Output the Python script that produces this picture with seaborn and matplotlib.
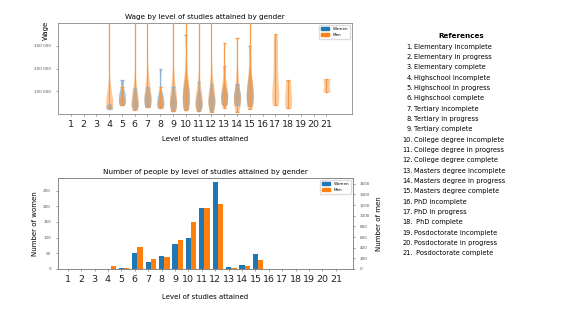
import numpy as np
import pandas as pd
import matplotlib
matplotlib.use('Agg')
import matplotlib.pyplot as plt
from matplotlib.patches import Patch
from matplotlib.ticker import FuncFormatter
import seaborn as sns

# level of studies 1..21
levels = list(range(1, 22))

# number of people per level (bottom chart)
women_count = [0, 0, 0, 1, 4, 51, 21, 42, 80, 99, 194, 277, 7, 12, 49, 0, 0, 0, 0, 0, 0]
men_count = [0, 0, 0, 56, 20, 413, 188, 231, 550, 875, 1144, 1219, 25, 56, 175, 0, 5, 5, 0, 0, 0]

# wages (thousands), per level
women_wage_4 = [22, 30, 42]
women_wage_5 = [40, 60, 80, 100, 148]
women_wage_6 = [20, 35, 45, 55, 70, 90, 115]
women_wage_7 = [30, 45, 60, 75, 90, 119]
women_wage_8 = [28, 40, 55, 70, 90, 197]
women_wage_9 = [15, 30, 45, 55, 70, 90, 120]
women_wage_10 = [18, 40, 60, 80, 100, 130, 346]
women_wage_11 = [15, 30, 40, 50, 60, 75, 95, 140]
women_wage_12 = [10, 30, 45, 55, 65, 80, 100, 130]
women_wage_13 = [38, 60, 80, 100, 211]
women_wage_14 = [38, 60, 80, 100, 134]
women_wage_15 = [34, 55, 75, 95, 120, 160, 300]

men_wage_4 = [28, 30, 32, 35, 38, 42, 48, 55, 65, 80, 100, 130, 480]
men_wage_5 = [38, 45, 50, 55, 60, 65, 75, 90, 105, 119]
men_wage_6 = [16, 25, 32, 38, 42, 48, 55, 62, 70, 80, 95, 115, 140, 500]
men_wage_7 = [29, 40, 50, 58, 65, 72, 80, 90, 105, 125, 150, 520]
men_wage_8 = [25, 30, 35, 40, 45, 52, 60, 70, 80, 95, 119]
men_wage_9 = [12, 25, 35, 45, 50, 55, 60, 68, 78, 90, 110, 140, 180, 550]
men_wage_10 = [16, 30, 45, 60, 70, 80, 90, 100, 115, 130, 160, 200, 600]
men_wage_11 = [13, 25, 35, 42, 48, 55, 62, 70, 85, 100, 130, 500]
men_wage_12 = [9, 25, 35, 45, 52, 60, 68, 78, 90, 105, 125, 160, 550]
men_wage_13 = [28, 45, 60, 75, 85, 95, 110, 125, 150, 200, 310]
men_wage_14 = [9, 30, 45, 55, 65, 75, 90, 110, 140, 180, 332]
men_wage_15 = [20, 40, 55, 70, 80, 90, 100, 115, 130, 160, 200, 260, 550]
men_wage_17 = [38, 60, 90, 130, 180, 240, 300, 351]
men_wage_18 = [26, 60, 100, 148]
men_wage_21 = [97, 156]

women_wages = {4: women_wage_4, 5: women_wage_5, 6: women_wage_6, 7: women_wage_7,
               8: women_wage_8, 9: women_wage_9, 10: women_wage_10, 11: women_wage_11,
               12: women_wage_12, 13: women_wage_13, 14: women_wage_14, 15: women_wage_15}
men_wages = {4: men_wage_4, 5: men_wage_5, 6: men_wage_6, 7: men_wage_7, 8: men_wage_8,
             9: men_wage_9, 10: men_wage_10, 11: men_wage_11, 12: men_wage_12,
             13: men_wage_13, 14: men_wage_14, 15: men_wage_15, 17: men_wage_17,
             18: men_wage_18, 21: men_wage_21}

references = ["Elementary incomplete", "Elementary in progress", "Elementary complete",
              "Highschool incomplete", "Highschool in progress", "Highschool complete",
              "Tertiary incomplete", "Tertiary in progress", "Tertiary complete",
              "College degree incomplete", "College degree in progress", "College degree complete",
              "Masters degree incomplete", "Masters degree in progress", "Masters degree complete",
              "PhD incomplete", "PhD in progress", " PhD complete",
              "Posdoctorate incomplete", "Posdoctorate in progress", " Posdoctorate complete"]

blue = '#1f77b4'
orange = '#ff7f0e'
pal = {'Women': blue, 'Men': orange}

rows = []
for g, d in [('Women', women_wages), ('Men', men_wages)]:
    for lvl, ws in d.items():
        for w in ws:
            rows.append((lvl, g, w * 1000))
df = pd.DataFrame(rows, columns=['level', 'gender', 'wage'])

W, H = 566, 319
fig = plt.figure(figsize=(W / 100, H / 100), dpi=100)


def rect(l, t, r, b):
    return [l / W, 1 - b / H, (r - l) / W, (b - t) / H]


def style_axes(ax):
    for s in ax.spines.values():
        s.set_color('#888888')
        s.set_linewidth(0.6)
    ax.tick_params(length=1.5, width=0.4, colors='#555555', labelsize=3)


# ---- top: violins
ax1 = fig.add_axes(rect(58, 23, 352, 114))
sns.violinplot(data=df, x='level', y='wage', hue='gender', hue_order=['Women', 'Men'],
               palette=pal, native_scale=True, dodge=False, cut=0, inner=None,
               density_norm='width', width=0.55, bw_adjust=0.6, linewidth=0.01,
               linecolor=orange, saturation=1, alpha=0.4, legend=False, ax=ax1)
ax1.grid(False)
for d, c in [(women_wages, '#8fb3d6'), (men_wages, '#f29a48')]:
    for lvl, ws in d.items():
        lo, hi = min(ws) * 1000, max(ws) * 1000
        ax1.vlines(lvl, lo, hi, color=c, lw=0.9, zorder=3)
        ax1.hlines([lo, hi], lvl - 0.125, lvl + 0.125, color=c, lw=0.9, zorder=3)
ax1.set_xlim(0, 23)
ax1.set_ylim(0, 400000)
ax1.set_yticks([100000, 200000, 300000])
ax1.yaxis.set_major_formatter(FuncFormatter(lambda v, p: f'{int(v):,}'.replace(',', ' ')))
style_axes(ax1)
ax1.set_xticks(levels)
ax1.set_xticklabels([str(l) for l in levels], fontsize=6.8, color='#222222')
ax1.tick_params(axis='x', pad=3)
ax1.set_xlabel('Level of studies attained', fontsize=5, labelpad=5)
ax1.set_ylabel('Wage', fontsize=5)
ax1.yaxis.set_label_coords(-0.03, 0.92)
ax1.set_title('Wage by level of studies attained by gender', fontsize=5.2, pad=3)
ax1.legend(handles=[Patch(color=blue, label='Women'), Patch(color=orange, label='Men')],
           loc='upper right', fontsize=3, handlelength=2, handleheight=0.8,
           frameon=True, framealpha=1, edgecolor='#dddddd')

# ---- bottom: counts
ax2 = fig.add_axes(rect(58, 178, 353, 269))
sns.barplot(x=levels, y=women_count, native_scale=True, width=0.4, color=blue,
            saturation=1, errorbar=None, orient='x', ax=ax2)
ax3 = ax2.twinx()
sns.barplot(x=[l + 0.4 for l in levels], y=men_count, native_scale=True, width=0.4,
            color=orange, saturation=1, errorbar=None, orient='x', ax=ax3)
ax2.set_xlim(0.27, 22.28)
ax2.set_ylim(0, 290)
ax3.set_ylim(0, 1710)
ax2.set_yticks([0, 50, 100, 150, 200, 250])
ax3.set_yticks(range(0, 1601, 200))
style_axes(ax2)
style_axes(ax3)
ax2.set_xticks(levels)
ax2.set_xticklabels([str(l) for l in levels], fontsize=6.8, color='#222222')
ax2.tick_params(axis='x', pad=3)
ax2.set_xlabel('Level of studies attained', fontsize=5, labelpad=7)
ax2.set_ylabel('Number of women', fontsize=5, labelpad=4)
ax3.set_ylabel('Number of men', fontsize=5, labelpad=4)
ax2.set_title('Number of people by level of studies attained by gender', fontsize=5.2, pad=3)
ax3.legend(handles=[Patch(color=blue, label='Women'), Patch(color=orange, label='Men')],
           loc='upper right', fontsize=3, handlelength=2, handleheight=0.8,
           frameon=True, framealpha=1, edgecolor='#dddddd')

# ---- references list
fig.text(461 / W, 1 - 36 / H, 'References', fontsize=5.2, fontweight='bold',
         ha='center', va='center')
for i, name in enumerate(references):
    y = 1 - (46.7 + i * 10.33) / H
    fig.text(413 / W, y, f'{i + 1}.', fontsize=4.8, ha='right', va='center')
    fig.text(413.5 / W, y, name, fontsize=4.8, ha='left', va='center')

fig.savefig('out.png', dpi=100)
